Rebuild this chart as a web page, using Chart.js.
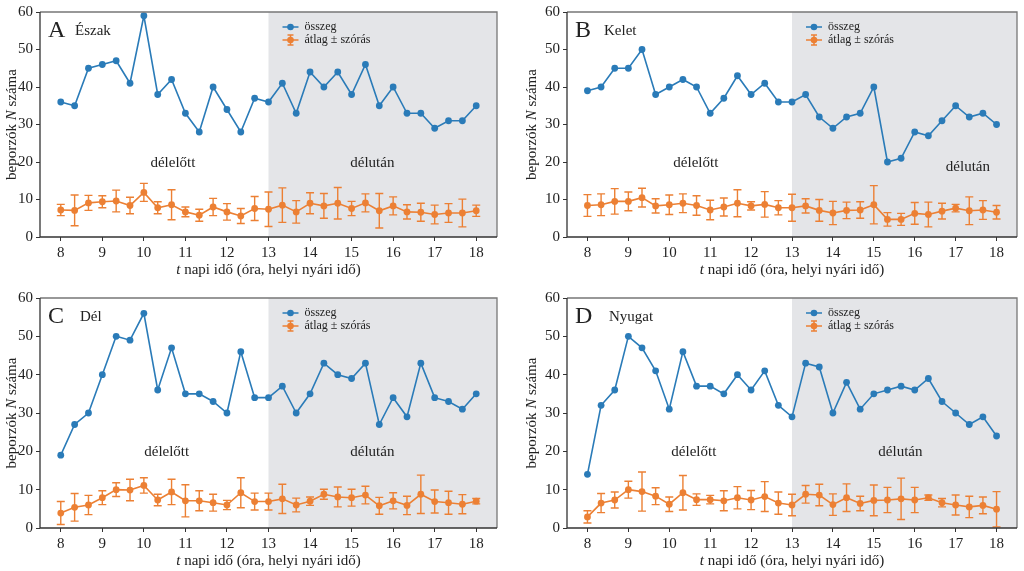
<!DOCTYPE html>
<html>
<head>
<meta charset="utf-8">
<script src="https://cdn.jsdelivr.net/npm/chart.js@4/dist/chart.umd.min.js"></script>
<style>
  html, body { margin: 0; padding: 0; background: #fff; }
  #wrap { position: relative; width: 1024px; height: 571px; }
  .panel { position: absolute; }
</style>
</head>
<body>
<div id="wrap">
  <div class="panel" style="left:0;top:0"><canvas id="c-a" width="512" height="286"></canvas></div>
  <div class="panel" style="left:512px;top:0"><canvas id="c-b" width="512" height="286"></canvas></div>
  <div class="panel" style="left:0;top:286px"><canvas id="c-c" width="512" height="285"></canvas></div>
  <div class="panel" style="left:512px;top:286px"><canvas id="c-d" width="512" height="285"></canvas></div>
</div>
<script>
// measurement times (local summer time)
const times = ['8:00','8:20','8:40','9:00','9:20','9:40','10:00','10:20','10:40','11:00','11:20','11:40',
  '12:00','12:20','12:40','13:00','13:20','13:40','14:00','14:20','14:40','15:00','15:20','15:40',
  '16:00','16:20','16:40','17:00','17:20','17:40','18:00'];
const xTicks = [8, 9, 10, 11, 12, 13, 14, 15, 16, 17, 18];
const yTicks = [0, 10, 20, 30, 40, 50, 60];
const afternoonStart = 13;

const eszakSum  = [36,35,45,46,47,41,59,38,42,33,28,40,34,28,37,36,41,33,44,40,44,38,46,35,40,33,33,29,31,31,35];
const eszakMean = [7.2,7.1,9.1,9.4,9.6,8.4,11.9,7.8,8.6,6.7,5.8,8.0,6.7,5.6,7.6,7.4,8.5,6.7,9.0,8.3,9.0,7.6,9.1,7.0,8.3,6.7,6.6,6.0,6.4,6.4,7.0];
const eszakSd   = [1.5,4.1,2.0,1.6,2.9,2.2,2.4,1.6,4.0,1.3,1.6,2.3,2.2,2.0,3.2,4.6,4.6,3.0,2.8,3.3,4.2,1.9,2.4,4.6,2.4,1.9,2.4,2.5,2.5,3.7,1.5];

const keletSum  = [39,40,45,45,50,38,40,42,40,33,37,43,38,41,36,36,38,32,29,32,33,40,20,21,28,27,31,35,32,33,30];
const keletMean = [8.4,8.6,9.5,9.5,10.5,8.3,8.6,9.0,8.4,7.2,8.0,9.0,8.3,8.7,7.8,7.8,8.3,7.1,6.4,7.1,7.2,8.6,4.7,4.7,6.3,6.0,6.9,7.7,7.0,7.2,6.6];
const keletSd   = [2.9,2.9,3.4,2.5,2.5,1.9,2.6,2.5,2.6,2.6,2.4,3.6,1.1,3.4,1.9,3.6,1.9,2.9,3.1,2.2,2.2,5.1,1.8,1.6,2.9,3.3,2.1,1.0,3.7,2.5,1.8];

const delSum  = [19,27,30,40,50,49,56,36,47,35,35,33,30,46,34,34,37,30,35,43,40,39,43,27,34,29,43,34,33,31,35];
const delMean = [3.9,5.4,6.0,7.9,10.0,9.9,11.1,7.3,9.4,7.1,7.1,6.6,6.0,9.2,6.9,6.9,7.6,6.0,7.0,8.8,8.1,7.9,8.6,5.8,7.1,5.9,8.8,6.9,6.6,6.2,7.0];
const delSd   = [3.0,3.6,2.5,1.8,1.8,2.8,2.0,1.5,3.3,4.2,2.6,2.2,1.2,3.9,2.2,2.2,3.8,1.8,1.1,1.3,2.6,2.2,2.3,2.2,2.1,2.4,5.0,3.0,3.0,2.5,0.7];

const nyugatSum  = [14,32,36,50,47,41,31,46,37,37,35,40,36,41,32,29,43,42,30,38,31,35,36,37,36,39,33,30,27,29,24];
const nyugatMean = [2.9,6.5,7.3,10.0,9.5,8.3,6.2,9.2,7.4,7.4,7.1,7.9,7.3,8.2,6.5,6.0,8.8,8.6,6.1,7.9,6.4,7.2,7.3,7.6,7.3,7.9,6.6,6.0,5.5,5.9,4.9];
const nyugatSd   = [1.6,2.5,2.1,2.2,5.1,2.2,1.9,4.5,1.5,1.1,2.6,2.9,2.5,3.9,2.9,2.8,2.3,2.8,2.8,3.6,1.9,4.0,3.3,5.4,3.3,0.7,1.1,2.6,2.8,2.2,4.6];

const BLUE = '#2a7bb8';
const ORANGE = '#ec8034';
const SHADE = '#e4e5e8';
const INK = '#222';
const SERIF = '"Liberation Serif", "DejaVu Serif", serif';

const hours = times.map(t => {
    const [h, m] = t.split(':').map(Number);
    return h + m / 60;
});

const panelPlugin = {
    id: 'panel',
    beforeDatasetsDraw(chart, args, opts) {
        const { ctx, chartArea: a, scales: { x, y } } = chart;
        // afternoon shading
        const xs = x.getPixelForValue(afternoonStart);
        ctx.save();
        ctx.fillStyle = SHADE;
        ctx.fillRect(xs, a.top, a.right - xs, a.bottom - a.top);
        // error bars
        ctx.strokeStyle = ORANGE;
        ctx.lineWidth = 1.4;
        opts.mean.forEach((m, i) => {
            const px = x.getPixelForValue(hours[i]);
            const hi = y.getPixelForValue(m + opts.sd[i]);
            const lo = y.getPixelForValue(m - opts.sd[i]);
            ctx.beginPath();
            ctx.moveTo(px, hi); ctx.lineTo(px, lo);
            ctx.moveTo(px - 4, hi); ctx.lineTo(px + 4, hi);
            ctx.moveTo(px - 4, lo); ctx.lineTo(px + 4, lo);
            ctx.stroke();
        });
        ctx.restore();
    },
    afterDraw(chart, args, opts) {
        const { ctx, chartArea: a, scales: { x, y } } = chart;
        ctx.save();
        // frame: light top/right, dark left/bottom
        ctx.lineWidth = 1.3;
        ctx.strokeStyle = '#777';
        ctx.beginPath();
        ctx.moveTo(a.left, a.top); ctx.lineTo(a.right, a.top); ctx.lineTo(a.right, a.bottom);
        ctx.stroke();
        ctx.strokeStyle = '#333';
        ctx.beginPath();
        ctx.moveTo(a.left, a.top); ctx.lineTo(a.left, a.bottom); ctx.lineTo(a.right, a.bottom);
        ctx.stroke();

        ctx.fillStyle = INK;
        ctx.textBaseline = 'alphabetic';
        ctx.textAlign = 'left';
        // panel letter and name
        ctx.font = '24px ' + SERIF;
        ctx.fillText(opts.letter, a.left + 8, a.top + 25);
        ctx.font = '15px ' + SERIF;
        ctx.fillText(opts.name, a.left + opts.nameDx, a.top + 23);

        // morning / afternoon labels
        ctx.font = '15px ' + SERIF;
        ctx.textAlign = 'center';
        ctx.fillText('délelőtt', x.getPixelForValue(opts.am[0]), y.getPixelForValue(opts.am[1]) + 5);
        ctx.fillText('délután', x.getPixelForValue(opts.pm[0]), y.getPixelForValue(opts.pm[1]) + 5);

        // legend
        const lx = x.getPixelForValue(afternoonStart) + 14;
        const ly1 = a.top + 15, ly2 = a.top + 28;
        ctx.lineWidth = 1.5;
        ctx.strokeStyle = BLUE; ctx.fillStyle = BLUE;
        ctx.beginPath(); ctx.moveTo(lx, ly1); ctx.lineTo(lx + 16, ly1); ctx.stroke();
        ctx.beginPath(); ctx.arc(lx + 8, ly1, 3.3, 0, Math.PI * 2); ctx.fill();
        ctx.strokeStyle = ORANGE; ctx.fillStyle = ORANGE;
        ctx.beginPath();
        ctx.moveTo(lx, ly2); ctx.lineTo(lx + 16, ly2);
        ctx.moveTo(lx + 8, ly2 - 5); ctx.lineTo(lx + 8, ly2 + 5);
        ctx.moveTo(lx + 5, ly2 - 5); ctx.lineTo(lx + 11, ly2 - 5);
        ctx.moveTo(lx + 5, ly2 + 5); ctx.lineTo(lx + 11, ly2 + 5);
        ctx.stroke();
        ctx.beginPath(); ctx.arc(lx + 8, ly2, 3.3, 0, Math.PI * 2); ctx.fill();
        ctx.fillStyle = INK;
        ctx.textAlign = 'left';
        ctx.textBaseline = 'middle';
        ctx.font = '12px ' + SERIF;
        ctx.fillText('összeg', lx + 22, ly1);
        ctx.fillText('átlag ± szórás', lx + 22, ly2);

        // x axis title with italic t
        ctx.textBaseline = 'alphabetic';
        ctx.font = 'italic 15px ' + SERIF;
        const tW = ctx.measureText('t').width;
        ctx.font = '15px ' + SERIF;
        const rest = ' napi idő (óra, helyi nyári idő)';
        const rW = ctx.measureText(rest).width;
        const sx = (a.left + a.right) / 2 - (tW + rW) / 2;
        const ty = a.bottom + 37;
        ctx.font = 'italic 15px ' + SERIF;
        ctx.fillText('t', sx, ty);
        ctx.font = '15px ' + SERIF;
        ctx.fillText(rest, sx + tW, ty);

        // y axis title with italic N
        ctx.translate(a.left - opts.yTitleDx, (a.top + a.bottom) / 2);
        ctx.rotate(-Math.PI / 2);
        const p1 = 'beporzók ', p3 = ' száma';
        ctx.font = '15px ' + SERIF;
        const w1 = ctx.measureText(p1).width, w3 = ctx.measureText(p3).width;
        ctx.font = 'italic 15px ' + SERIF;
        const w2 = ctx.measureText('N').width;
        const s = -(w1 + w2 + w3) / 2;
        ctx.textBaseline = 'middle';
        ctx.font = '15px ' + SERIF;
        ctx.fillText(p1, s, 0);
        ctx.font = 'italic 15px ' + SERIF;
        ctx.fillText('N', s + w1, 0);
        ctx.font = '15px ' + SERIF;
        ctx.fillText(p3, s + w1 + w2, 0);
        ctx.restore();
    }
};

function makePanel(id, geom, info, sum, mean, sd) {
    const el = document.getElementById(id);
    const axisCommon = {
        border: { display: false },
        grid: { drawOnChartArea: false, drawTicks: true, tickLength: 4, color: '#333', tickWidth: 1 },
        ticks: { color: INK, font: { family: SERIF, size: 15 }, padding: 3 }
    };
    return new Chart(el, {
        type: 'line',
        data: {
            datasets: [
                {
                    label: 'összeg',
                    data: sum.map((v, i) => ({ x: hours[i], y: v })),
                    borderColor: BLUE, backgroundColor: BLUE,
                    borderWidth: 1.6, pointRadius: 3.4, pointBorderWidth: 0, tension: 0
                },
                {
                    label: 'átlag ± szórás',
                    data: mean.map((v, i) => ({ x: hours[i], y: v })),
                    borderColor: ORANGE, backgroundColor: ORANGE,
                    borderWidth: 1.6, pointRadius: 3.4, pointBorderWidth: 0, tension: 0
                }
            ]
        },
        options: {
            responsive: false,
            animation: false,
            devicePixelRatio: 1,
            layout: { padding: { top: geom.top, right: geom.right, left: 0, bottom: 0 } },
            plugins: {
                legend: { display: false },
                tooltip: { enabled: false },
                panel: Object.assign({ mean, sd }, info)
            },
            scales: {
                x: Object.assign({}, axisCommon, {
                    type: 'linear', min: 7.5, max: 18.5,
                    afterBuildTicks: s => { s.ticks = xTicks.map(v => ({ value: v })); },
                    afterFit: s => { s.height = geom.xh; }
                }),
                y: Object.assign({}, axisCommon, {
                    type: 'linear', min: 0, max: 60,
                    afterBuildTicks: s => { s.ticks = yTicks.map(v => ({ value: v })); },
                    afterFit: s => { s.width = geom.yw; }
                })
            }
        },
        plugins: [panelPlugin]
    });
}

makePanel('c-a', { top: 5, right: 15, xh: 49, yw: 40 },
    { letter: 'A', name: 'Észak', nameDx: 35, am: [10.7, 20], pm: [15.5, 20], yTitleDx: 28 },
    eszakSum, eszakMean, eszakSd);
makePanel('c-b', { top: 5, right: 7, xh: 49, yw: 55 },
    { letter: 'B', name: 'Kelet', nameDx: 37, am: [10.65, 20], pm: [17.3, 19], yTitleDx: 35 },
    keletSum, keletMean, keletSd);
makePanel('c-c', { top: 11, right: 15, xh: 43, yw: 40 },
    { letter: 'C', name: 'Dél', nameDx: 40, am: [10.55, 20], pm: [15.5, 20], yTitleDx: 28 },
    delSum, delMean, delSd);
makePanel('c-d', { top: 11, right: 7, xh: 43, yw: 55 },
    { letter: 'D', name: 'Nyugat', nameDx: 42, am: [10.6, 20], pm: [15.65, 20], yTitleDx: 35 },
    nyugatSum, nyugatMean, nyugatSd);
</script>
</body>
</html>
